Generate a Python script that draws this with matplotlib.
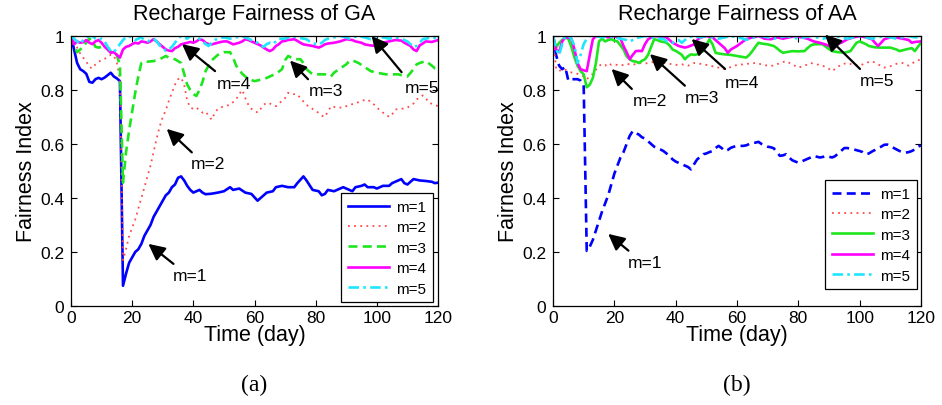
import matplotlib
matplotlib.use("Agg")
import matplotlib.pyplot as plt
import numpy as np

plt.rcParams["font.family"] = ["Liberation Sans", "DejaVu Sans"]

# ---------------- GA panel data ----------------
ga1_days = [0, 1, 2, 3, 4, 5, 6, 7, 8, 9, 10, 11, 12, 13, 14, 15, 16, 17, 18, 19, 20, 21, 22, 23, 24, 25,
            26, 27, 28, 29, 30, 31, 32, 33, 34, 35, 36, 37, 38, 39, 40, 41, 42, 43, 44, 46, 48, 50, 52, 53,
            55, 57, 59, 61, 62, 64, 66, 67, 69, 71, 73, 74, 76, 77, 79, 81, 82, 83, 84, 86, 87, 89, 91, 92,
            93, 95, 96, 97, 99, 100, 102, 104, 105, 107, 108, 109, 110, 112, 114, 116, 118, 119, 120]
ga1_vals = [1.0, 0.95, 0.90, 0.877, 0.87, 0.86, 0.83, 0.827, 0.84, 0.845, 0.84, 0.846, 0.855, 0.864, 0.85,
            0.843, 0.833, 0.075, 0.12, 0.16, 0.18, 0.20, 0.21, 0.23, 0.26, 0.28, 0.30, 0.33, 0.35, 0.37,
            0.39, 0.41, 0.42, 0.44, 0.45, 0.475, 0.48, 0.465, 0.445, 0.43, 0.42, 0.425, 0.43, 0.42, 0.414,
            0.416, 0.42, 0.425, 0.44, 0.43, 0.435, 0.42, 0.415, 0.39, 0.40, 0.42, 0.425, 0.44, 0.445, 0.44,
            0.44, 0.455, 0.48, 0.465, 0.43, 0.425, 0.41, 0.415, 0.43, 0.425, 0.43, 0.44, 0.43, 0.425, 0.44,
            0.445, 0.45, 0.44, 0.44, 0.435, 0.445, 0.445, 0.455, 0.465, 0.47, 0.455, 0.45, 0.47, 0.465,
            0.463, 0.46, 0.455, 0.457]

ga2_days = [0, 1, 2, 3, 4, 5, 6, 7, 8, 9, 10, 11, 12, 13, 14, 15, 16, 17, 18, 19, 20, 21, 22, 23, 24, 25,
            26, 27, 28, 29, 30, 31, 32, 33, 34, 35, 36, 37, 38, 39, 40, 41, 42, 43, 44, 45, 46, 47, 48, 49,
            50, 52, 53, 54, 55, 56, 57, 58, 59, 60, 61, 62, 63, 64, 65, 67, 68, 70, 71, 72, 74, 75, 77, 79,
            81, 82, 83, 84, 85, 87, 89, 91, 93, 95, 97, 98, 99, 100, 102, 103, 104, 105, 106, 108, 110, 112,
            113, 115, 116, 117, 119, 120]
ga2_vals = [1.0, 0.975, 0.957, 0.935, 0.92, 0.905, 0.885, 0.88, 0.895, 0.905, 0.91, 0.915, 0.925, 0.93,
            0.928, 0.90, 0.84, 0.17, 0.21, 0.26, 0.29, 0.32, 0.36, 0.40, 0.44, 0.48, 0.52, 0.57, 0.62, 0.665,
            0.70, 0.725, 0.76, 0.79, 0.82, 0.84, 0.846, 0.82, 0.76, 0.735, 0.73, 0.735, 0.725, 0.716, 0.72,
            0.705, 0.69, 0.715, 0.73, 0.735, 0.74, 0.745, 0.755, 0.765, 0.785, 0.80, 0.77, 0.745, 0.73,
            0.725, 0.716, 0.73, 0.745, 0.753, 0.75, 0.74, 0.75, 0.77, 0.79, 0.785, 0.784, 0.77, 0.745, 0.73,
            0.715, 0.705, 0.70, 0.72, 0.74, 0.735, 0.735, 0.745, 0.75, 0.76, 0.765, 0.755, 0.747, 0.735,
            0.716, 0.71, 0.70, 0.71, 0.728, 0.73, 0.735, 0.75, 0.765, 0.78, 0.77, 0.753, 0.745, 0.74]

ga3_days = [0, 1, 2, 3, 4, 5, 6, 7, 8, 9, 10, 11, 12, 13, 14, 15, 16, 17, 18, 19, 20, 21, 22, 23, 24, 25,
            27, 29, 31, 32, 34, 36, 37, 38, 39, 40, 41, 42, 43, 44, 45, 46, 47, 48, 50, 52, 53, 54, 56, 58,
            60, 62, 63, 65, 67, 69, 70, 71, 72, 73, 75, 76, 77, 79, 81, 83, 85, 86, 88, 90, 91, 92, 94, 96,
            98, 100, 102, 103, 105, 107, 109, 110, 112, 113, 114, 116, 118, 119, 120]
ga3_vals = [1.0, 0.965, 0.94, 0.95, 0.96, 0.975, 0.99, 0.98, 0.96, 0.957, 0.96, 0.963, 0.95, 0.94, 0.945,
            0.93, 0.89, 0.457, 0.57, 0.65, 0.72, 0.79, 0.85, 0.90, 0.907, 0.905, 0.907, 0.914, 0.926, 0.92,
            0.914, 0.90, 0.86, 0.82, 0.80, 0.785, 0.778, 0.80, 0.83, 0.87, 0.89, 0.91, 0.92, 0.93, 0.94,
            0.94, 0.92, 0.89, 0.86, 0.84, 0.833, 0.838, 0.84, 0.85, 0.86, 0.877, 0.91, 0.926, 0.92, 0.914,
            0.914, 0.90, 0.877, 0.858, 0.858, 0.858, 0.85, 0.864, 0.88, 0.895, 0.907, 0.91, 0.90, 0.885,
            0.87, 0.864, 0.86, 0.858, 0.858, 0.858, 0.852, 0.85, 0.877, 0.895, 0.90, 0.907, 0.89, 0.88, 0.877]

ga4_days = [0, 1, 2, 3, 4, 5, 6, 7, 8, 9, 10, 11, 12, 13, 14, 15, 16, 17, 18, 19, 20, 21, 22, 23, 24, 25,
            26, 27, 28, 29, 30, 31, 32, 33, 34, 35, 36, 37, 38, 39, 40, 41, 42, 43, 44, 45, 46, 47, 48, 49,
            50, 51, 52, 53, 54, 55, 56, 57, 58, 59, 60, 61, 62, 63, 64, 65, 66, 67, 68, 69, 70, 71, 73, 74,
            75, 76, 77, 79, 80, 81, 82, 83, 84, 86, 88, 90, 92, 93, 95, 96, 98, 100, 101, 102, 104, 106, 108,
            109, 111, 112, 113, 114, 115, 116, 118, 120]
ga4_vals = [1.0, 0.969, 0.98, 0.975, 0.977, 0.985, 0.975, 0.97, 0.98, 0.985, 0.975, 0.96, 0.95, 0.938,
            0.94, 0.93, 0.92, 0.95, 0.96, 0.963, 0.97, 0.975, 0.972, 0.98, 0.978, 0.975, 0.98, 0.988, 0.98,
            0.969, 0.96, 0.95, 0.946, 0.944, 0.955, 0.96, 0.969, 0.972, 0.975, 0.978, 0.975, 0.98, 0.988,
            0.985, 0.975, 0.97, 0.969, 0.972, 0.975, 0.978, 0.98, 0.98, 0.975, 0.969, 0.972, 0.975, 0.98,
            0.988, 0.985, 0.98, 0.975, 0.97, 0.965, 0.957, 0.95, 0.944, 0.95, 0.963, 0.97, 0.98, 0.982,
            0.985, 0.988, 0.982, 0.975, 0.969, 0.967, 0.963, 0.96, 0.957, 0.962, 0.969, 0.972, 0.975, 0.98,
            0.988, 0.985, 0.98, 0.975, 0.969, 0.965, 0.963, 0.968, 0.975, 0.98, 0.985, 0.983, 0.975, 0.963,
            0.95, 0.944, 0.965, 0.972, 0.98, 0.978, 0.985]

ga5_days = [0, 1, 2, 3, 4, 5, 6, 7, 8, 9, 10, 11, 12, 13, 14, 15, 16, 17, 18, 19, 20, 21, 22, 23, 24, 25,
            26, 27, 28, 29, 30, 31, 32, 33, 34, 35, 36, 37, 38, 39, 40, 41, 42, 43, 44, 45, 46, 47, 48, 50,
            52, 54, 56, 58, 60, 61, 62, 63, 64, 65, 66, 67, 68, 70, 72, 74, 76, 77, 78, 79, 80, 81, 82, 83,
            84, 86, 88, 90, 91, 92, 94, 96, 98, 100, 102, 104, 106, 108, 110, 111, 112, 113, 114, 115, 116,
            118, 120]
ga5_vals = [1.0, 0.99, 0.98, 0.97, 0.985, 0.995, 1.0, 1.0, 0.99, 0.985, 0.99, 0.98, 0.96, 0.945, 0.94,
            0.955, 0.97, 0.985, 0.995, 1.0, 0.99, 0.985, 0.99, 0.995, 0.985, 0.98, 0.985, 0.99, 0.98, 0.965,
            0.955, 0.945, 0.95, 0.96, 0.975, 0.99, 1.0, 0.995, 0.99, 1.0, 1.0, 0.995, 0.99, 0.98, 0.97,
            0.963, 0.975, 0.985, 0.99, 0.995, 0.99, 0.995, 1.0, 0.99, 0.98, 0.975, 0.965, 0.96, 0.97, 0.975,
            0.97, 0.98, 0.99, 0.99, 1.0, 0.995, 0.99, 0.988, 0.98, 0.975, 0.97, 0.968, 0.975, 0.985, 0.99,
            0.995, 1.0, 0.995, 0.99, 0.995, 1.0, 0.995, 0.988, 0.99, 0.995, 0.99, 0.995, 0.99, 0.98, 0.97,
            0.96, 0.963, 0.975, 0.988, 0.99, 0.995, 0.99]

# ---------------- AA panel data ----------------
aa1_days = [0, 1, 2, 3, 4, 5, 6, 7, 8, 9, 10, 11, 12, 13, 14, 15, 16, 17, 18, 19, 20, 21, 22, 23, 24, 25,
            26, 27, 28, 29, 30, 31, 32, 33, 34, 35, 36, 37, 38, 39, 40, 41, 42, 43, 44, 45, 46, 47, 48, 49,
            50, 51, 52, 53, 54, 55, 56, 57, 58, 59, 60, 62, 63, 64, 65, 66, 67, 68, 69, 70, 71, 72, 73, 74,
            75, 76, 77, 78, 79, 80, 81, 82, 83, 84, 85, 86, 87, 88, 89, 90, 91, 92, 93, 94, 95, 96, 97, 98,
            99, 100, 101, 102, 103, 104, 105, 106, 107, 108, 109, 110, 111, 112, 113, 114, 115, 116, 117,
            118, 119, 120]
aa1_vals = [1.0, 0.93, 0.89, 0.877, 0.885, 0.835, 0.84, 0.84, 0.84, 0.835, 0.82, 0.204, 0.22, 0.245,
            0.28, 0.315, 0.35, 0.38, 0.41, 0.45, 0.49, 0.52, 0.55, 0.57, 0.60, 0.63, 0.648, 0.64, 0.635,
            0.625, 0.62, 0.61, 0.60, 0.59, 0.585, 0.58, 0.574, 0.565, 0.555, 0.543, 0.535, 0.53, 0.525,
            0.52, 0.515, 0.506, 0.525, 0.543, 0.552, 0.562, 0.565, 0.57, 0.574, 0.585, 0.593, 0.585, 0.574,
            0.578, 0.586, 0.59, 0.593, 0.593, 0.595, 0.60, 0.605, 0.605, 0.608, 0.60, 0.595, 0.59, 0.588,
            0.584, 0.57, 0.556, 0.558, 0.562, 0.55, 0.54, 0.535, 0.531, 0.535, 0.54, 0.545, 0.55, 0.556,
            0.553, 0.55, 0.552, 0.556, 0.553, 0.55, 0.555, 0.565, 0.575, 0.585, 0.585, 0.582, 0.58, 0.577,
            0.574, 0.57, 0.562, 0.565, 0.572, 0.578, 0.585, 0.59, 0.597, 0.598, 0.592, 0.586, 0.58, 0.574,
            0.57, 0.568, 0.57, 0.574, 0.58, 0.59, 0.595]

aa2_days = [0, 1, 2, 3, 4, 5, 6, 7, 8, 9, 10, 11, 12, 13, 14, 15, 16, 17, 18, 19, 20, 22, 24, 26, 28, 30,
            32, 34, 36, 38, 40, 42, 44, 46, 48, 50, 52, 54, 56, 58, 60, 62, 64, 66, 68, 70, 72, 74, 76, 78,
            80, 82, 84, 86, 88, 90, 91, 92, 94, 96, 98, 100, 102, 104, 106, 108, 110, 112, 114, 116, 118, 120]
aa2_vals = [1.0, 0.88, 0.87, 0.877, 0.875, 0.87, 0.865, 0.862, 0.86, 0.855, 0.85, 0.84, 0.85, 0.86,
            0.875, 0.89, 0.895, 0.89, 0.90, 0.893, 0.895, 0.89, 0.897, 0.893, 0.90, 0.898, 0.902, 0.907,
            0.90, 0.897, 0.893, 0.895, 0.89, 0.90, 0.897, 0.893, 0.888, 0.883, 0.877, 0.885, 0.893, 0.895,
            0.898, 0.90, 0.895, 0.89, 0.89, 0.90, 0.907, 0.895, 0.883, 0.89, 0.90, 0.895, 0.89, 0.878, 0.87,
            0.878, 0.895, 0.90, 0.893, 0.89, 0.90, 0.907, 0.895, 0.883, 0.888, 0.897, 0.90, 0.89, 0.905,
            0.914]

aa3_days = [0, 1, 2, 3, 4, 5, 6, 7, 8, 9, 10, 11, 12, 13, 14, 15, 16, 17, 18, 19, 20, 21, 22, 23, 24, 25,
            26, 27, 28, 29, 30, 31, 32, 33, 34, 35, 36, 37, 38, 39, 40, 41, 42, 43, 44, 45, 46, 47, 48, 49,
            50, 51, 52, 53, 54, 56, 58, 60, 62, 63, 64, 65, 66, 67, 68, 70, 72, 73, 74, 75, 76, 78, 80, 82,
            83, 84, 85, 87, 88, 89, 91, 93, 95, 97, 98, 99, 100, 102, 103, 105, 107, 110, 112, 113, 115, 117,
            118, 119, 120]
aa3_vals = [1.0, 0.957, 0.975, 0.985, 0.994, 0.99, 0.96, 0.92, 0.89, 0.87, 0.858, 0.81, 0.82, 0.845,
            0.90, 0.98, 0.99, 0.98, 0.985, 0.988, 0.983, 0.98, 0.965, 0.95, 0.925, 0.914, 0.907, 0.905,
            0.90, 0.908, 0.914, 0.93, 0.96, 0.988, 0.985, 0.98, 0.978, 0.975, 0.965, 0.95, 0.945, 0.938,
            0.93, 0.914, 0.925, 0.932, 0.93, 0.932, 0.94, 0.944, 0.965, 0.988, 0.97, 0.938, 0.935, 0.932,
            0.93, 0.926, 0.922, 0.92, 0.93, 0.944, 0.96, 0.975, 0.972, 0.969, 0.963, 0.955, 0.945, 0.938,
            0.94, 0.944, 0.943, 0.944, 0.955, 0.965, 0.969, 0.97, 0.969, 0.96, 0.944, 0.94, 0.938, 0.944,
            0.96, 0.975, 0.98, 0.97, 0.963, 0.958, 0.957, 0.957, 0.95, 0.944, 0.95, 0.955, 0.944, 0.96, 0.975]

aa4_days = [0, 1, 2, 3, 4, 5, 6, 7, 8, 9, 10, 11, 12, 13, 14, 16, 18, 20, 22, 23, 24, 25, 26, 27, 28, 29,
            30, 31, 33, 35, 37, 38, 39, 41, 43, 44, 46, 47, 48, 50, 52, 53, 54, 56, 57, 58, 60, 62, 63, 65,
            67, 69, 71, 73, 75, 77, 79, 81, 83, 85, 87, 89, 90, 92, 94, 96, 98, 100, 102, 104, 105, 106, 107,
            108, 110, 112, 114, 116, 117, 118, 120]
aa4_vals = [1.0, 0.95, 0.94, 0.98, 0.995, 0.994, 0.99, 0.95, 0.90, 0.877, 0.873, 0.87, 0.93, 0.988, 1.0,
            1.0, 0.995, 1.0, 0.99, 0.963, 0.94, 0.914, 0.93, 0.944, 0.945, 0.944, 0.97, 0.988, 1.0, 0.998,
            0.995, 0.985, 0.975, 0.963, 0.957, 0.96, 0.969, 0.985, 0.994, 1.0, 0.995, 0.985, 0.975, 0.955,
            0.938, 0.95, 0.963, 0.98, 0.988, 0.995, 1.0, 0.99, 0.988, 0.995, 0.99, 0.995, 1.0, 0.995, 0.99,
            0.98, 0.975, 0.968, 0.963, 0.97, 0.975, 0.988, 0.995, 1.0, 0.995, 0.988, 0.975, 0.963, 0.975,
            0.988, 0.995, 0.994, 0.99, 0.985, 0.975, 0.978, 0.98]

aa5_days = [0, 1, 2, 3, 4, 5, 6, 7, 8, 9, 10, 11, 12, 14, 16, 18, 20, 22, 24, 25, 26, 27, 28, 30, 32, 34,
            36, 37, 38, 39, 40, 41, 42, 43, 44, 46, 48, 50, 52, 54, 56, 58, 60, 62, 63, 64, 66, 68, 70, 72,
            74, 76, 78, 80, 82, 84, 86, 88, 90, 92, 94, 96, 98, 100, 102, 104, 106, 108, 110, 112, 114, 116,
            118, 120]
aa5_vals = [1.0, 0.95, 0.93, 0.97, 1.0, 1.0, 0.99, 0.963, 0.90, 0.93, 0.97, 0.99, 1.0, 1.0, 0.995, 1.0,
            0.995, 0.99, 0.985, 0.98, 0.985, 0.99, 0.995, 1.0, 0.995, 0.99, 0.99, 0.98, 0.975, 0.975, 0.98,
            0.985, 0.975, 0.985, 0.995, 1.0, 0.995, 1.0, 0.995, 0.99, 0.995, 1.0, 0.995, 0.99, 0.985, 0.99,
            0.995, 1.0, 0.995, 0.99, 0.995, 1.0, 0.995, 0.99, 0.995, 1.0, 0.995, 0.99, 0.995, 1.0, 0.995,
            0.99, 0.995, 1.0, 0.995, 0.99, 0.995, 1.0, 0.995, 0.99, 0.995, 1.0, 0.995, 0.995]

labels = ["m=1", "m=2", "m=3", "m=4", "m=5"]
x_ticks = [0, 20, 40, 60, 80, 100, 120]
y_ticks = [0, 0.2, 0.4, 0.6, 0.8, 1.0]
y_tick_labels = ["0", "0.2", "0.4", "0.6", "0.8", "1"]

BLUE, RED, GREEN, MAGENTA, CYAN = "#0000ff", "#ff4a4a", "#1ee61e", "#ff00ff", "#1ee6ff"

DASH = (0, (3.4, 2.0))
DOT = (0, (1.0, 2.4))
DASHDOT = (0, (4.0, 1.6, 1.0, 1.6))

fig = plt.figure(figsize=(9.42, 4.06), dpi=100)
ax_ga = fig.add_axes([71 / 942, 99 / 406, 367 / 942, 270 / 406])
ax_aa = fig.add_axes([553 / 942, 99 / 406, 368 / 942, 270 / 406])

# GA curves
ax_ga.plot(ga1_days, ga1_vals, color=BLUE, lw=1.9, ls="-", label=labels[0])
ax_ga.plot(ga2_days, ga2_vals, color=RED, lw=1.3, ls=DOT, label=labels[1])
ax_ga.plot(ga3_days, ga3_vals, color=GREEN, lw=1.9, ls=DASH, label=labels[2])
ax_ga.plot(ga4_days, ga4_vals, color=MAGENTA, lw=1.9, ls="-", label=labels[3])
ax_ga.plot(ga5_days, ga5_vals, color=CYAN, lw=1.9, ls=DASHDOT, label=labels[4])

# AA curves
ax_aa.plot(aa1_days, aa1_vals, color=BLUE, lw=1.9, ls=DASH, label=labels[0])
ax_aa.plot(aa2_days, aa2_vals, color=RED, lw=1.3, ls=DOT, label=labels[1])
ax_aa.plot(aa3_days, aa3_vals, color=GREEN, lw=1.9, ls="-", label=labels[2])
ax_aa.plot(aa4_days, aa4_vals, color=MAGENTA, lw=1.9, ls="-", label=labels[3])
ax_aa.plot(aa5_days, aa5_vals, color=CYAN, lw=1.9, ls=DASHDOT, label=labels[4])

arrow = dict(arrowstyle="-|>,head_length=0.7,head_width=0.35", color="black", lw=1.6,
             shrinkA=0, shrinkB=0, mutation_scale=14)

# (label, head xy, tail xy, text xy)
ga_notes = [
    ("m=1", (25.3, 0.23), (33.5, 0.156), (38.9, 0.112)),
    ("m=2", (31.3, 0.656), (39.5, 0.569), (44.9, 0.526)),
    ("m=3", (71.6, 0.909), (77.5, 0.84), (83.3, 0.80)),
    ("m=4", (36.3, 0.97), (47.1, 0.87), (53.3, 0.825)),
    ("m=5", (98.3, 1.0), (108.1, 0.866), (114.7, 0.81)),
]
aa_notes = [
    ("m=1", (18.0, 0.267), (24.6, 0.205), (30.0, 0.162)),
    ("m=2", (19.1, 0.878), (25.7, 0.804), (31.6, 0.76)),
    ("m=3", (31.6, 0.933), (43.0, 0.816), (48.7, 0.773)),
    ("m=4", (45.2, 0.989), (56.1, 0.878), (61.5, 0.828)),
    ("m=5", (88.7, 1.005), (100.1, 0.878), (105.7, 0.835)),
]

for ax, notes, title, sub, leg_anchor in [
    (ax_ga, ga_notes, "Recharge Fairness of GA", "(a)", (0.986, 0.015)),
    (ax_aa, aa_notes, "Recharge Fairness of AA", "(b)", (0.989, 0.063)),
]:
    for text, head, tail, txy in notes:
        ax.annotate("", xy=head, xytext=tail, arrowprops=arrow, annotation_clip=False)
        ax.text(txy[0], txy[1], text, fontsize=12.5, ha="center", va="center")

    ax.set_xlim(0, 120)
    ax.set_ylim(0, 1)
    ax.set_xticks(x_ticks)
    ax.set_yticks(y_ticks)
    ax.set_yticklabels(y_tick_labels)
    ax.tick_params(direction="in", top=True, right=True, length=4, width=0.8,
                   labelsize=12.5)
    ax.tick_params(axis="x", pad=3)
    ax.tick_params(axis="y", pad=5)
    for sp in ax.spines.values():
        sp.set_linewidth(0.9)
    ax.set_title(title, fontsize=15.5, pad=12)
    ax.set_xlabel("Time (day)", fontsize=15.5, labelpad=-1)
    ax.set_ylabel("Fairness Index", fontsize=15.5, labelpad=2)

    leg = ax.legend(loc="lower right", bbox_to_anchor=leg_anchor, borderaxespad=0,
                    fontsize=11, handlelength=2.7, handletextpad=0.5, labelspacing=0.42,
                    borderpad=0.42, fancybox=False, framealpha=1, edgecolor="black")
    leg.get_frame().set_linewidth(0.9)

    ax.text(0.5, -0.292, sub, transform=ax.transAxes, ha="center", va="center",
            fontsize=17, family="Liberation Serif")

fig.savefig("out.png", dpi=100)
